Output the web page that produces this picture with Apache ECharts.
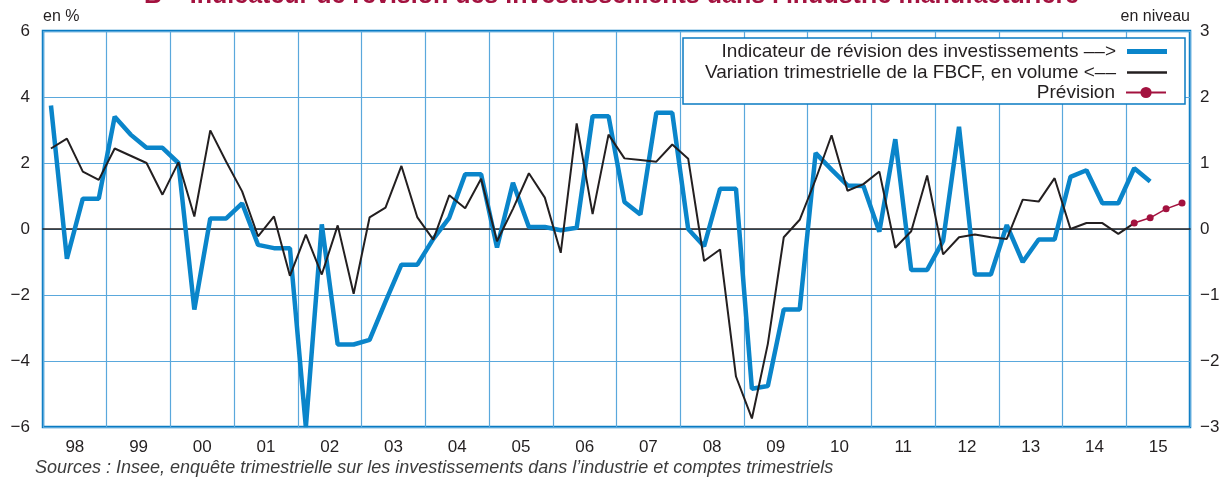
<!DOCTYPE html>
<html style="height: 100%">
<head>
<meta charset="utf-8">
</head>
<body style="height: 100%; margin: 0">
<div id="container" style="width: 1223px; height: 481px"></div>
<script type="text/javascript" src="https://cdn.jsdelivr.net/npm/echarts@6/dist/echarts.min.js"></script>
<script type="text/javascript">
// years shown on the axis, one category per year
var years = ['98', '99', '00', '01', '02', '03', '04', '05', '06',
             '07', '08', '09', '10', '11', '12', '13', '14', '15'];

// indicateur de révision (right axis, en niveau), one value per quarter
var indicateur = [
  1.87, -0.45, 0.46, 0.46,
  1.70, 1.43, 1.23, 1.23,
  1.00, -1.22, 0.16, 0.16,
  0.39, -0.24, -0.29, -0.29,
  -3.00, 0.07, -1.75, -1.75,
  -1.68, -1.10, -0.54, -0.54,
  -0.15, 0.17, 0.83, 0.83,
  -0.28, 0.70, 0.03, 0.03,
  -0.02, 0.02, 1.71, 1.71,
  0.41, 0.22, 1.76, 1.76,
  0.00, -0.26, 0.61, 0.61,
  -2.42, -2.38, -1.22, -1.22,
  1.15, 0.90, 0.66, 0.65,
  -0.04, 1.36, -0.62, -0.62,
  -0.18, 1.55, -0.69, -0.69,
  0.06, -0.50, -0.16, -0.16,
  0.79, 0.89, 0.39, 0.39,
  0.92, 0.72, null, null
];

// variation trimestrielle de la FBCF (left axis, en %)
var fbcf = [
  2.44, 2.74, 1.74, 1.49,
  2.44, 2.22, 2.00, 1.04,
  2.02, 0.38, 2.99, 2.04,
  1.14, -0.22, 0.38, -1.42,
  -0.17, -1.38, 0.11, -1.96,
  0.35, 0.65, 1.91, 0.35,
  -0.32, 1.02, 0.63, 1.52,
  -0.37, 0.61, 1.69, 0.95,
  -0.72, 3.20, 0.45, 2.86,
  2.14, 2.09, 2.04, 2.56,
  2.13, -0.97, -0.62, -4.47,
  -5.74, -3.48, -0.25, 0.28,
  1.50, 2.84, 1.16, 1.36,
  1.74, -0.57, -0.07, 1.62,
  -0.77, -0.25, -0.17, -0.25,
  -0.30, 0.89, 0.83, 1.54,
  0.00, 0.18, 0.18, -0.15,
  0.18, null, null, null
];

// prévision, 2015 T1 to T4
var prevision = [0.18, 0.34, 0.61, 0.79];

var quarters = [];
for (var i = 0; i < years.length; i++) {
  for (var q = 1; q <= 4; q++) quarters.push(years[i] + 'T' + q);
}
var prevData = new Array(quarters.length - prevision.length).fill(null).concat(prevision);

var nameBlue = 'Indicateur de révision des investissements ––>';
var nameBlack = 'Variation trimestrielle de la FBCF, en volume <––';
var nameRed = 'Prévision';

var gridBlue = '#5aa8dc';
var frameBlue = '#0a7bc2';
var ink = '#231f20';
var blue = '#0a85ca';
var red = '#a3123f';

function fmt(v) { return v < 0 ? '−' + Math.abs(v) : String(v); }

var dom = document.getElementById('container');
var myChart = echarts.init(dom);

function legendFor(name, top, icon, h) {
  var lg = {
    data: [name],
    orient: 'vertical',
    align: 'right',
    right: 56,
    top: top,
    padding: 0,
    itemWidth: 40,
    itemHeight: h,
    z: 6,
    selectedMode: false,
    textStyle: { fontSize: 19, color: ink, fontFamily: 'Liberation Sans', padding: [0, 6, 0, 0] }
  };
  if (icon) lg.icon = icon;
  return lg;
}

var option = {
  animation: false,
  backgroundColor: '#ffffff',
  textStyle: { fontFamily: 'Liberation Sans' },
  title: {
    text: 'B – Indicateur de révision des investissements dans l’industrie manufacturière',
    left: 'center',
    top: -21,
    textStyle: { fontSize: 25, fontWeight: 'bold', color: red, fontFamily: 'Liberation Sans' }
  },
  legend: [
    legendFor(nameBlue, 42, 'rect', 5),
    legendFor(nameBlack, 63, 'rect', 2.5),
    legendFor(nameRed, 83, null, 14)
  ],
  grid: {
    left: 43, right: 33, top: 31, bottom: 54,
    show: true, borderColor: frameBlue, borderWidth: 2.5, backgroundColor: 'transparent'
  },
  graphic: [
    {
      type: 'rect', z: 5,
      shape: { x: 683, y: 38, width: 502, height: 66 },
      style: { fill: '#ffffff', stroke: frameBlue, lineWidth: 1.5 }
    },
    {
      type: 'text', left: 35, top: 459,
      style: {
        text: 'Sources : Insee, enquête trimestrielle sur les investissements dans l’industrie et comptes trimestriels',
        fontSize: 18, fontStyle: 'italic', fill: '#3c3c3c', fontFamily: 'Liberation Sans'
      }
    }
  ],
  xAxis: [
    {
      type: 'category', data: years, position: 'bottom',
      axisLine: { show: false }, axisTick: { show: false },
      axisLabel: { fontSize: 17, color: ink, margin: 12 },
      splitLine: { show: true, lineStyle: { color: gridBlue, width: 1.2 } }
    },
    {
      type: 'category', data: quarters, position: 'bottom',
      axisLine: { show: true, onZero: true, lineStyle: { color: ink, width: 1.5 } },
      axisTick: { show: false }, axisLabel: { show: false },
      splitLine: { show: false }
    }
  ],
  yAxis: [
    {
      type: 'value', min: -6, max: 6, interval: 2,
      name: 'en %', nameLocation: 'end', nameGap: 6,
      nameTextStyle: { fontSize: 16, color: ink, align: 'left' },
      axisLine: { show: false }, axisTick: { show: false },
      axisLabel: { fontSize: 17, color: ink, margin: 13, formatter: fmt },
      splitLine: { show: true, lineStyle: { color: gridBlue, width: 1.2 } }
    },
    {
      type: 'value', min: -3, max: 3, interval: 1, position: 'right',
      name: 'en niveau', nameLocation: 'end', nameGap: 6,
      nameTextStyle: { fontSize: 16, color: ink, align: 'right' },
      axisLine: { show: false }, axisTick: { show: false },
      axisLabel: { fontSize: 17, color: ink, margin: 10, formatter: fmt },
      splitLine: { show: false }
    }
  ],
  series: [
    {
      name: nameBlue, type: 'line', xAxisIndex: 1, yAxisIndex: 1,
      data: indicateur, symbol: 'none', z: 2,
      lineStyle: { color: blue, width: 4.5 }, itemStyle: { color: blue }
    },
    {
      name: nameBlack, type: 'line', xAxisIndex: 1, yAxisIndex: 0,
      data: fbcf, symbol: 'none', z: 3,
      lineStyle: { color: ink, width: 2 }, itemStyle: { color: ink }
    },
    {
      name: nameRed, type: 'line', xAxisIndex: 1, yAxisIndex: 0,
      data: prevData, symbol: 'circle', symbolSize: 7, z: 4,
      lineStyle: { color: red, width: 1.5 }, itemStyle: { color: red }
    }
  ]
};

if (option && typeof option === 'object') {
  myChart.setOption(option, true);
}
</script>
</body>
</html>
